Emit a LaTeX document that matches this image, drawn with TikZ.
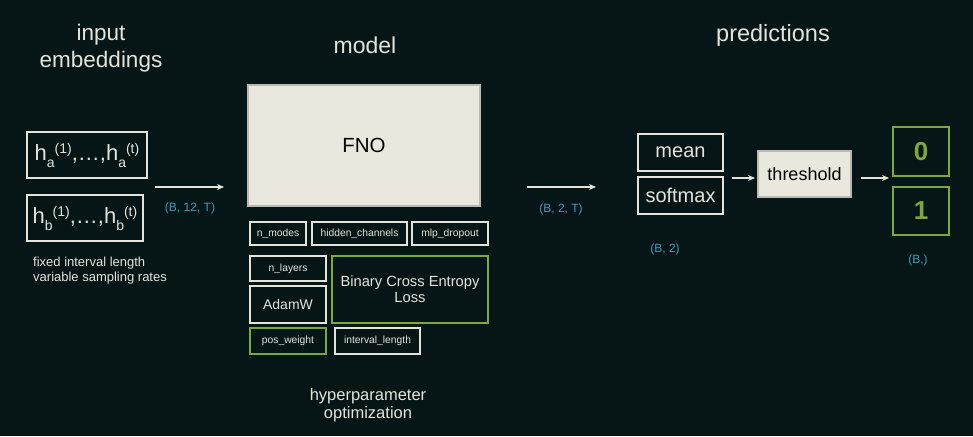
\documentclass[tikz,border=0pt]{standalone}
\usepackage{fontspec}
\setmainfont{Liberation Sans}
\usetikzlibrary{arrows.meta}
\definecolor{bg}{HTML}{061616}
\definecolor{cream}{HTML}{EAE7DD}
\definecolor{fg}{HTML}{E4E4DA}
\definecolor{grn}{HTML}{7FA83C}
\definecolor{blu}{HTML}{3E9CBE}
\newcommand{\fs}[1]{\fontsize{#1}{#1}\selectfont}
\newcommand{\hterm}[2]{h\raisebox{-6.5pt}{\fs{14}#1}\raisebox{7.5pt}{\fs{14}(#2)}}
\begin{document}
\begin{tikzpicture}[x=1pt,y=-1pt,
  box/.style={draw=fg, line width=1.3pt, fill=bg, text=fg, inner sep=0pt},
  gbox/.style={box, draw=grn},
  cbox/.style={box, fill=cream, draw=cream!80!black, text=black},
  lbl/.style={text=fg, inner sep=0pt},
  dim/.style={text=blu, inner sep=0pt, font=\fs{12}},
  small/.style={font=\fs{10.3}},
  arr/.style={draw=fg, line width=1.3pt, -{Stealth[length=7pt,width=6pt]}},
  ]
\fill[bg] (0,0) rectangle (973,436);
\useasboundingbox (0,0) rectangle (973,436);

% titles
\node[lbl, font=\fs{22.5}] (t1a) at (101,35) {input};
\node[lbl, font=\fs{22.5}] (t1b) at (101,62) {embeddings};
\node[lbl, font=\fs{23}] (t2) at (365,45) {model};
\node[lbl, font=\fs{23.5}] (t3) at (773,35) {predictions};

% input embeddings
\node[box, minimum width=120, minimum height=46, font=\fs{22}] (ha) at (87,155) {\hterm{a}{1},…,\hterm{a}{t}};
\node[box, minimum width=116, minimum height=46, font=\fs{22}] (hb) at (85,218) {\hterm{b}{1},…,\hterm{b}{t}};
\node[lbl, anchor=west, font=\fs{13}] (note1) at (33,263) {fixed interval length};
\node[lbl, anchor=west, font=\fs{13}] (note2) at (33,278) {variable sampling rates};

% arrow 1
\coordinate (a1s) at (155,187);
\coordinate (a1e) at (224,187);
\draw[arr] (a1s) -- (a1e);
\node[dim] (d1) at (190,208) {(B, 12, T)};

% model
\node[cbox, minimum width=232, minimum height=121, font=\fs{20.5}] (fno) at (364,145.5) {FNO};
\node[box, small, minimum width=56, minimum height=23] (nm) at (278,233.5) {n\_modes};
\node[box, small, minimum width=95, minimum height=23] (hc) at (359.5,233.5) {hidden\_channels};
\node[box, small, minimum width=76, minimum height=23] (md) at (450,233.5) {mlp\_dropout};
\node[box, small, minimum width=76, minimum height=25] (nl) at (288,268.5) {n\_layers};
\node[box, minimum width=76, minimum height=37, font=\fs{14}] (adam) at (288,304.5) {AdamW};
\node[gbox, minimum width=156, minimum height=67, font=\fs{14.7}, align=center] (bce) at (410,289.5) {Binary Cross Entropy\\[1pt]Loss};
\node[gbox, small, minimum width=76, minimum height=26] (pw) at (288,341) {pos\_weight};
\node[box, small, minimum width=85, minimum height=26] (il) at (377.5,341) {interval\_length};
\node[lbl, font=\fs{16.5}] (hpo1) at (368,396) {hyperparameter};
\node[lbl, font=\fs{16.5}] (hpo2) at (368,414) {optimization};

% arrow 2
\coordinate (a2s) at (527,187);
\coordinate (a2e) at (596,187);
\draw[arr] (a2s) -- (a2e);
\node[dim] (d2) at (561,209) {(B, 2, T)};

% predictions
\node[box, minimum width=85, minimum height=37, font=\fs{20}] (mean) at (680.5,152.5) {mean};
\node[box, minimum width=85, minimum height=37, font=\fs{20}] (soft) at (680.5,195.5) {softmax};
\node[dim] (d3) at (665,249) {(B, 2)};
\coordinate (a3s) at (732,178);
\coordinate (a3e) at (755,178);
\draw[arr] (a3s) -- (a3e);
\node[cbox, minimum width=93, minimum height=46, font=\fs{18}] (thr) at (804.5,174) {threshold};
\coordinate (a4s) at (861,178);
\coordinate (a4e) at (889,178);
\draw[arr] (a4s) -- (a4e);
\node[gbox, minimum width=56, minimum height=49, font=\fs{26}\bfseries, text=grn] (zero) at (921,151.5) {0};
\node[gbox, minimum width=56, minimum height=48, font=\fs{26}\bfseries, text=grn] (one) at (921,211) {1};
\node[dim] (d4) at (918,260) {(B,)};
\end{tikzpicture}
\end{document}
